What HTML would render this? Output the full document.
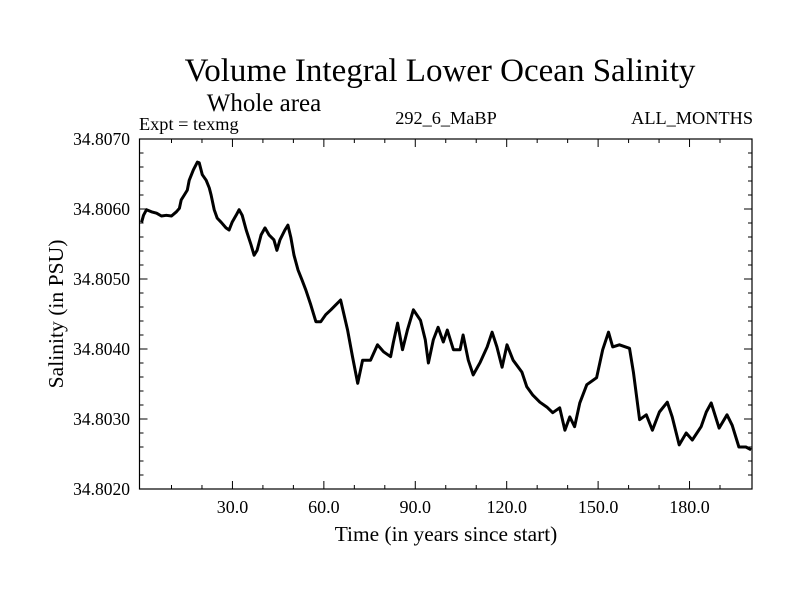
<!DOCTYPE html>
<html><head><meta charset="utf-8"><style>
body{margin:0;background:#fff}
svg text{font-family:"Liberation Serif",serif;fill:#000}
</style></head><body>
<svg width="800" height="600" viewBox="0 0 800 600">
<rect width="800" height="600" fill="#fff"/>
<text x="440" y="81" font-size="33" text-anchor="middle">Volume Integral Lower Ocean Salinity</text>
<text x="264" y="111" font-size="25" text-anchor="middle">Whole area</text>
<text x="139" y="130" font-size="18.3">Expt = texmg</text>
<text x="446" y="124" font-size="18.3" text-anchor="middle">292_6_MaBP</text>
<text x="753" y="124" font-size="18.3" text-anchor="end">ALL_MONTHS</text>
<g id="axes"></g>
<path id="series" fill="none" stroke="#000" stroke-width="3" stroke-linejoin="round"/>
<rect x="139.5" y="139" width="612.5" height="350" fill="none" stroke="#000" stroke-width="1.2"/>
<text x="446" y="541" font-size="21.4" text-anchor="middle">Time (in years since start)</text>
<text transform="translate(63,314) rotate(-90)" font-size="21.6" text-anchor="middle">Salinity (in PSU)</text>
</svg>
<script>
const years=[0.2,0.8,1.8,3.4,5.1,6.7,8.3,10.0,11.6,12.6,13.2,14.2,15.2,15.8,17.2,18.5,19.1,20.1,21.4,22.4,23.0,24.0,25.0,26.3,27.9,28.9,29.9,31.2,32.2,33.2,34.5,36.1,37.1,38.1,39.4,40.7,42.0,43.6,44.6,45.6,47.2,48.2,49.2,50.2,51.5,52.8,54.1,55.7,57.4,59.0,60.6,62.3,63.9,65.5,67.8,69.4,71.1,72.7,75.3,77.6,79.6,81.9,82.8,84.2,85.8,87.4,89.4,91.7,93.3,94.3,95.9,97.5,99.2,100.5,102.5,104.7,105.7,107.4,109.0,111.3,113.6,115.2,116.8,118.5,120.1,122.1,125.0,126.6,128.6,130.9,133.2,135.1,137.4,139.1,140.7,142.3,144.0,146.3,149.5,151.5,153.4,154.8,157.0,160.3,161.6,163.6,165.8,167.8,170.1,172.7,174.3,176.6,178.9,180.9,183.8,185.5,187.1,189.7,192.3,194.0,196.2,198.5,200.2];
const salinity=[34.80581,34.80591,34.80599,34.80596,34.80594,34.8059,34.80591,34.8059,34.80596,34.80601,34.80613,34.8062,34.80627,34.80641,34.80656,34.80667,34.80666,34.80649,34.80641,34.8063,34.8062,34.80599,34.80587,34.80581,34.80573,34.8057,34.80581,34.80591,34.80599,34.80591,34.8057,34.80549,34.80534,34.80541,34.80563,34.80573,34.80563,34.80556,34.80541,34.80556,34.8057,34.80577,34.80559,34.80534,34.80513,34.80499,34.80484,34.80463,34.80439,34.80439,34.80449,34.80456,34.80463,34.8047,34.80427,34.80389,34.80351,34.80384,34.80384,34.80406,34.80396,34.80389,34.80409,34.80437,34.80399,34.80427,34.80456,34.80441,34.80413,34.8038,34.80413,34.80431,34.8041,34.80427,34.80399,34.80399,34.8042,34.80384,34.80363,34.80381,34.80403,34.80424,34.80403,34.80374,34.80406,34.80384,34.80367,34.80346,34.80334,34.80324,34.80317,34.80309,34.80316,34.80284,34.80303,34.80289,34.80323,34.80349,34.80359,34.80399,34.80424,34.80403,34.80406,34.80401,34.80366,34.80299,34.80306,34.80284,34.8031,34.80324,34.80303,34.80263,34.8028,34.8027,34.80289,34.8031,34.80323,34.80287,34.80306,34.80291,34.8026,34.8026,34.80256];
const xTickValues=[30,60,90,120,150,180];
const xTickLabels=["30.0","60.0","90.0","120.0","150.0","180.0"];
const yTickValues=[34.802,34.803,34.804,34.805,34.806,34.807];
const yTickLabels=["34.8020","34.8030","34.8040","34.8050","34.8060","34.8070"];
const X0=139.5,X1=752,Y0=489,Y1=139,XMIN=-0.5,XMAX=200.5,YMIN=34.802,YMAX=34.807;
function xs(t){return X0+(t-XMIN)/(XMAX-XMIN)*(X1-X0);}
function ys(v){return Y0-(v-YMIN)/(YMAX-YMIN)*(Y0-Y1);}
const NS="http://www.w3.org/2000/svg";
const g=document.getElementById('axes');
function line(x1,y1,x2,y2,name){const l=document.createElementNS(NS,'line');l.setAttribute('x1',x1);l.setAttribute('y1',y1);l.setAttribute('x2',x2);l.setAttribute('y2',y2);l.setAttribute('stroke','#000');l.setAttribute('stroke-width','1');


g.appendChild(l);}
function text(x,y,s,anchor,size,name){const t=document.createElementNS(NS,'text');t.setAttribute('x',x);t.setAttribute('y',y);t.setAttribute('font-size',size);t.setAttribute('text-anchor',anchor);t.textContent=s;


g.appendChild(t);}
for(let t=10;t<200;t+=10){const x=xs(t);const L=(t%30===0)?8:4;line(x,Y0,x,Y0-L,'x-tick');line(x,Y1,x,Y1+L,'x-tick-top');}
xTickValues.forEach((v,i)=>text(xs(v),513,xTickLabels[i],'middle','18','x-tick-label'));
for(let k=1;k<25;k++){const v=YMIN+k*0.0002;const y=ys(v);const L=(k%5===0)?8:4;line(X0,y,X0+L,y,'y-tick');line(X1,y,X1-L,y,'y-tick-right');}
yTickValues.forEach((v,i)=>text(130,ys(v)+6,yTickLabels[i],'end','17.5','y-tick-label'));
let d='';years.forEach((t,i)=>{d+=(i?'L':'M')+xs(t).toFixed(1)+' '+ys(salinity[i]).toFixed(1);});
document.getElementById('series').setAttribute('d',d);
</script>
</body></html>
